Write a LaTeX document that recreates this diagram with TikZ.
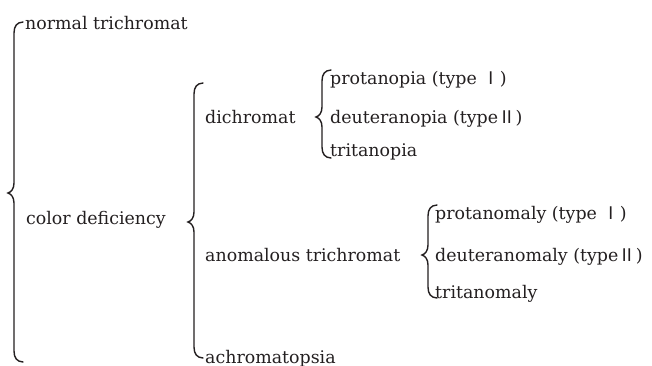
\documentclass[tikz,border=0pt]{standalone}
\usepackage{fontspec}
\setmainfont{DejaVu Serif}
\newfontfamily\cjk{Noto Sans CJK SC}
\definecolor{ink}{HTML}{231F20}
\tikzset{
  lbl/.style={anchor=base west, inner sep=0pt, text=ink, font=\fontsize{17.4}{21}\selectfont},
  bracestyle/.style={draw=ink, line width=1.4pt, line cap=round}
}
\newcommand{\mybrace}[4]{% x, top, mid, bottom
  \draw[bracestyle] ({#1+9},#2) .. controls ({#1+3},{#2+0.3}) and (#1,{#2+4}) .. (#1,{#2+11})
    -- (#1,{#3-10}) .. controls (#1,{#3-4}) and ({#1-3},{#3-1}) .. ({#1-6},#3)
    .. controls ({#1-3},{#3+1}) and (#1,{#3+4}) .. (#1,{#3+10})
    -- (#1,{#4-11}) .. controls (#1,{#4-4}) and ({#1+3},{#4-0.3}) .. ({#1+9},#4);}
\begin{document}
\begin{tikzpicture}[x=1pt,y=-1pt]
\useasboundingbox (0,0) rectangle (652,365);
% level 1
\mybrace{14}{22}{193}{362}
\node[lbl] (nt) at (25,29) {normal trichromat};
\node[lbl] (cd) at (26,224) {color deficiency};
% level 2
\mybrace{194}{83}{222}{358}
\node[lbl] (di) at (205,123) {dichromat};
\node[lbl] (an) at (205,261) {anomalous trichromat};
\node[lbl] (ac) at (205,363) {achromatopsia};
% level 3a
\mybrace{322}{70}{117}{158}
\node[lbl] (p1) at (330,84) {protanopia (type {\cjk Ⅰ})};
\node[lbl] (p2) at (330,123) {deuteranopia (type{\cjk Ⅱ})};
\node[lbl] (p3) at (330,156) {tritanopia};
% level 3b
\mybrace{428}{205}{255}{298}
\node[lbl] (q1) at (435,219) {protanomaly (type {\cjk Ⅰ})};
\node[lbl] (q2) at (435,261) {deuteranomaly (type{\cjk Ⅱ})};
\node[lbl] (q3) at (435,298) {tritanomaly};
\end{tikzpicture}
\end{document}
